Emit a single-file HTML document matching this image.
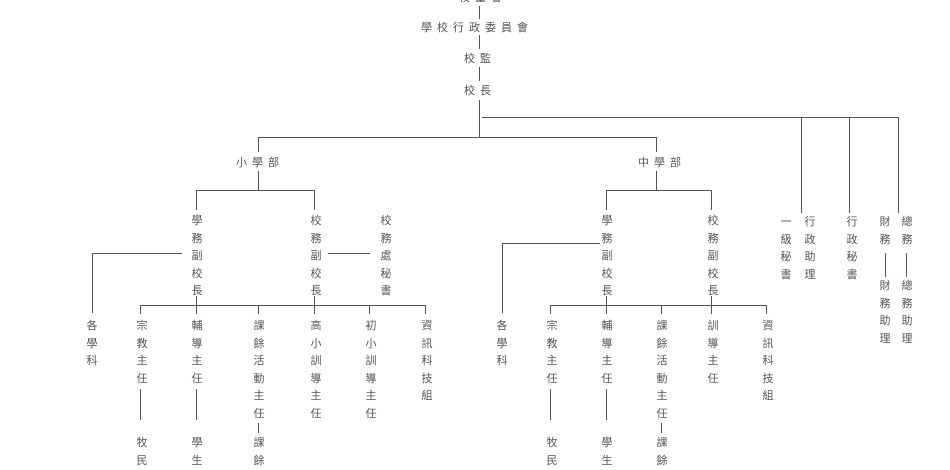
<!DOCTYPE html>
<html><head><meta charset="utf-8"><style>
body{margin:0;width:950px;height:460px;background:#fff;position:relative;overflow:hidden;font-family:"Liberation Sans","Noto Sans CJK TC",sans-serif;color:#555;font-size:11px}
.h{position:absolute;white-space:nowrap;letter-spacing:5px;line-height:14px;transform:translateX(-50%)}
.v{position:absolute;width:20px;margin-left:-10px;text-align:center;line-height:17.5px}
.l{position:absolute;background:#555}
</style></head><body>
<div class="h" style="left:483px;top:-9px">校董會</div>
<div class="h" style="left:477px;top:21px">學校行政委員會</div>
<div class="h" style="left:480px;top:52px">校監</div>
<div class="h" style="left:480px;top:84px">校長</div>
<div class="l" style="left:479px;top:6px;width:1px;height:13px"></div>
<div class="l" style="left:479px;top:35px;width:1px;height:14px"></div>
<div class="l" style="left:479px;top:67px;width:1px;height:14px"></div>
<div class="l" style="left:479px;top:100px;width:1px;height:37px"></div>
<div class="l" style="left:482px;top:117px;width:417px;height:1px"></div>
<div class="l" style="left:801px;top:117px;width:1px;height:96px"></div>
<div class="l" style="left:849px;top:117px;width:1px;height:96px"></div>
<div class="l" style="left:898px;top:117px;width:1px;height:96px"></div>
<div class="l" style="left:258px;top:137px;width:399px;height:1px"></div>
<div class="l" style="left:258px;top:137px;width:1px;height:15px"></div>
<div class="l" style="left:656px;top:137px;width:1px;height:15px"></div>
<div class="h" style="left:260px;top:156px">小學部</div>
<div class="h" style="left:662px;top:156px">中學部</div>
<div class="l" style="left:258px;top:171px;width:1px;height:20px"></div>
<div class="l" style="left:656px;top:171px;width:1px;height:20px"></div>
<div class="l" style="left:196px;top:190px;width:119px;height:1px"></div>
<div class="l" style="left:196px;top:190px;width:1px;height:20px"></div>
<div class="l" style="left:314px;top:190px;width:1px;height:20px"></div>
<div class="l" style="left:606px;top:190px;width:106px;height:1px"></div>
<div class="l" style="left:606px;top:190px;width:1px;height:20px"></div>
<div class="l" style="left:711px;top:190px;width:1px;height:20px"></div>
<!-- primary -->
<div class="v" style="left:197px;top:213px">學<br>務<br>副<br>校<br>長</div>
<div class="v" style="left:316px;top:213px">校<br>務<br>副<br>校<br>長</div>
<div class="v" style="left:386px;top:213px">校<br>務<br>處<br>秘<br>書</div>
<div class="l" style="left:328px;top:253px;width:42px;height:1px"></div>
<div class="l" style="left:92px;top:253px;width:90px;height:1px"></div>
<div class="l" style="left:92px;top:253px;width:1px;height:60px"></div>
<div class="l" style="left:140px;top:305px;width:286px;height:1px"></div>
<div class="l" style="left:140px;top:305px;width:1px;height:9px"></div>
<div class="l" style="left:196px;top:296px;width:1px;height:18px"></div>
<div class="l" style="left:258px;top:305px;width:1px;height:9px"></div>
<div class="l" style="left:314px;top:296px;width:1px;height:18px"></div>
<div class="l" style="left:369px;top:305px;width:1px;height:9px"></div>
<div class="l" style="left:425px;top:305px;width:1px;height:9px"></div>
<div class="v" style="left:92px;top:318px">各<br>學<br>科</div>
<div class="v" style="left:142px;top:318px">宗<br>教<br>主<br>任</div>
<div class="v" style="left:197px;top:318px">輔<br>導<br>主<br>任</div>
<div class="v" style="left:259px;top:318px">課<br>餘<br>活<br>動<br>主<br>任</div>
<div class="v" style="left:316px;top:318px">高<br>小<br>訓<br>導<br>主<br>任</div>
<div class="v" style="left:371px;top:318px">初<br>小<br>訓<br>導<br>主<br>任</div>
<div class="v" style="left:427px;top:318px">資<br>訊<br>科<br>技<br>組</div>
<div class="l" style="left:140px;top:389px;width:1px;height:31px"></div>
<div class="l" style="left:196px;top:389px;width:1px;height:31px"></div>
<div class="l" style="left:258px;top:423px;width:1px;height:10px"></div>
<div class="v" style="left:142px;top:435px">牧<br>民</div>
<div class="v" style="left:197px;top:435px">學<br>生</div>
<div class="v" style="left:259px;top:435px">課<br>餘</div>
<!-- secondary -->
<div class="v" style="left:607px;top:213px">學<br>務<br>副<br>校<br>長</div>
<div class="v" style="left:713px;top:213px">校<br>務<br>副<br>校<br>長</div>
<div class="l" style="left:502px;top:243px;width:98px;height:1px"></div>
<div class="l" style="left:502px;top:243px;width:1px;height:70px"></div>
<div class="l" style="left:550px;top:305px;width:217px;height:1px"></div>
<div class="l" style="left:550px;top:305px;width:1px;height:9px"></div>
<div class="l" style="left:606px;top:296px;width:1px;height:18px"></div>
<div class="l" style="left:661px;top:305px;width:1px;height:9px"></div>
<div class="l" style="left:711px;top:296px;width:1px;height:18px"></div>
<div class="l" style="left:766px;top:305px;width:1px;height:9px"></div>
<div class="v" style="left:502px;top:318px">各<br>學<br>科</div>
<div class="v" style="left:552px;top:318px">宗<br>教<br>主<br>任</div>
<div class="v" style="left:607px;top:318px">輔<br>導<br>主<br>任</div>
<div class="v" style="left:662px;top:318px">課<br>餘<br>活<br>動<br>主<br>任</div>
<div class="v" style="left:713px;top:318px">訓<br>導<br>主<br>任</div>
<div class="v" style="left:768px;top:318px">資<br>訊<br>科<br>技<br>組</div>
<div class="l" style="left:550px;top:389px;width:1px;height:31px"></div>
<div class="l" style="left:606px;top:389px;width:1px;height:31px"></div>
<div class="l" style="left:661px;top:423px;width:1px;height:10px"></div>
<div class="v" style="left:552px;top:435px">牧<br>民</div>
<div class="v" style="left:607px;top:435px">學<br>生</div>
<div class="v" style="left:662px;top:435px">課<br>餘</div>
<!-- right -->
<div class="v" style="left:786px;top:214px">一<br>級<br>秘<br>書</div>
<div class="v" style="left:810px;top:214px">行<br>政<br>助<br>理</div>
<div class="v" style="left:852px;top:214px">行<br>政<br>秘<br>書</div>
<div class="v" style="left:885px;top:214px">財<br>務</div>
<div class="v" style="left:907px;top:214px">總<br>務</div>
<div class="l" style="left:885px;top:253px;width:1px;height:24px"></div>
<div class="l" style="left:906px;top:253px;width:1px;height:24px"></div>
<div class="v" style="left:885px;top:278px">財<br>務<br>助<br>理</div>
<div class="v" style="left:907px;top:278px">總<br>務<br>助<br>理</div>
</body></html>
